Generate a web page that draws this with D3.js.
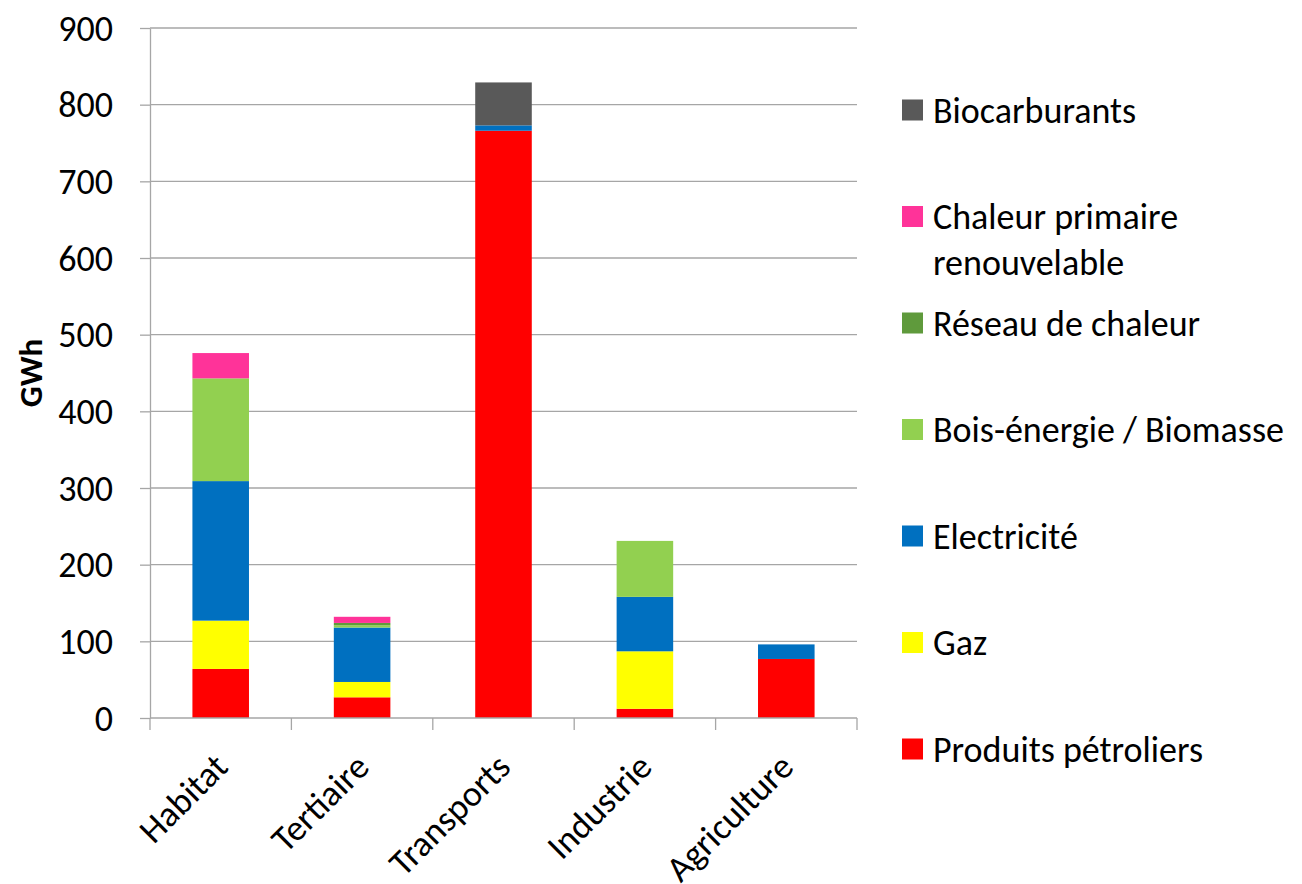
<!DOCTYPE html>
<html>
<head>
<meta charset="utf-8">
<script src="https://cdn.jsdelivr.net/npm/d3@7"></script>
<style>
  body { margin: 0; background: #fff; }
  svg text { font-family: Carlito, Lato, "Open Sans", sans-serif; fill: #000; }
</style>
</head>
<body>
<svg id="chart"></svg>
<script>
// Data
const categories = ['Habitat', 'Tertiaire', 'Transports', 'Industrie', 'Agriculture'];
const series = ['Produits pétroliers', 'Gaz', 'Electricité', 'Bois-énergie / Biomasse',
                'Réseau de chaleur', 'Chaleur primaire renouvelable', 'Biocarburants'];
const colors = ['#ff0000', '#ffff00', '#0070c0', '#92d050', '#5f9a3c', '#ff3399', '#595959'];

const produitsPetroliers = [64, 27, 766, 12, 77];
const gaz               = [63, 20, 0, 75, 0];
const electricite       = [182, 71, 7, 71, 19];
const boisEnergie       = [134, 3, 0, 73, 0];
const reseauChaleur     = [0, 3, 0, 0, 0];
const chaleurPrimaire   = [33, 8, 0, 0, 0];
const biocarburants     = [0, 0, 56, 0, 0];
const yTicks = [0, 100, 200, 300, 400, 500, 600, 700, 800, 900];

const values = [produitsPetroliers, gaz, electricite, boisEnergie, reseauChaleur, chaleurPrimaire, biocarburants];
const table = categories.map((c, i) => {
  const row = { cat: c };
  series.forEach((s, j) => row[s] = values[j][i]);
  return row;
});

// Dimensions
const w = 1302, h = 884;
const margin = { left: 150, top: 28, right: 445, bottom: 166 };
const plotW = w - margin.left - margin.right;
const plotH = h - margin.top - margin.bottom;
const fontSize = '36px';

const svg = d3.select('#chart').attr('width', w).attr('height', h);
const g = svg.append('g').attr('transform', `translate(${margin.left},${margin.top})`);

const x = d3.scaleBand().domain(categories).range([0, plotW]).padding(0);
const y = d3.scaleLinear().domain([0, 900]).range([plotH, 0]);

// Gridlines
g.selectAll('.grid')
  .data(yTicks.slice(1))
  .enter()
  .append('line')
  .attr('x1', 0).attr('x2', plotW)
  .attr('y1', d => y(d)).attr('y2', d => y(d))
  .attr('stroke', '#a6a6a6').attr('stroke-width', 1.3);

// Stacked bars
const stacked = d3.stack().keys(series)(table);
const barW = x.bandwidth() * 0.4;

g.selectAll('.layer')
  .data(stacked)
  .enter()
  .append('g')
  .attr('fill', (d, i) => colors[i])
  .selectAll('rect')
  .data(d => d.filter(p => p[1] - p[0] > 0))
  .enter()
  .append('rect')
  .attr('x', d => x(d.data.cat) + (x.bandwidth() - barW) / 2)
  .attr('y', d => y(d[1]))
  .attr('width', barW)
  .attr('height', d => y(d[0]) - y(d[1]));

// Y axis
const yAxis = d3.axisLeft(y).tickValues(yTicks).tickSize(10).tickPadding(27).tickSizeOuter(0);
const yG = g.append('g').call(yAxis);
yG.select('.domain').attr('stroke', '#a6a6a6').attr('stroke-width', 1.3);
yG.selectAll('.tick line').attr('stroke', '#a6a6a6').attr('stroke-width', 1.3);
yG.selectAll('.tick text').style('font-size', fontSize).attr('dy', '0.34em');

// X axis
const xG = g.append('g').attr('transform', `translate(0,${plotH})`);
xG.append('line').attr('x1', 0).attr('x2', plotW)
  .attr('stroke', '#a6a6a6').attr('stroke-width', 1.3);
xG.selectAll('.xtick')
  .data(d3.range(categories.length + 1))
  .enter()
  .append('line')
  .attr('x1', i => i * x.step()).attr('x2', i => i * x.step())
  .attr('y1', 0).attr('y2', 12)
  .attr('stroke', '#a6a6a6').attr('stroke-width', 1.3);
xG.selectAll('.xlabel')
  .data(categories)
  .enter()
  .append('text')
  .attr('transform', d => `translate(${x(d) + x.bandwidth() / 2 + 9},${51}) rotate(-45)`)
  .attr('text-anchor', 'end')
  .style('font-size', fontSize)
  .text(d => d);

// Y label
svg.append('text')
  .attr('transform', `translate(42,${margin.top + plotH / 2}) rotate(-90)`)
  .attr('text-anchor', 'middle')
  .style('font-size', '33px')
  .style('font-weight', 'bold')
  .text('GWh');

// Legend (top entry = last series)
const legendItems = series.map((s, i) => ({ name: s, color: colors[i] })).reverse();
const legend = svg.append('g').attr('transform', 'translate(902,0)');
const item = legend.selectAll('.item')
  .data(legendItems)
  .enter()
  .append('g')
  .attr('transform', (d, i) => `translate(0,${110 + i * 106.5})`);
item.append('rect')
  .attr('x', 0).attr('y', -10.5)
  .attr('width', 21).attr('height', 21)
  .attr('fill', d => d.color);
item.append('text')
  .style('font-size', fontSize)
  .each(function(d) {
    const parts = d.name === 'Chaleur primaire renouvelable'
      ? ['Chaleur primaire', 'renouvelable'] : [d.name];
    d3.select(this).selectAll('tspan')
      .data(parts)
      .enter()
      .append('tspan')
      .attr('x', 31)
      .attr('y', (p, k) => k * 46)
      .attr('dy', '0.35em')
      .text(p => p);
  });
</script>
</body>
</html>
